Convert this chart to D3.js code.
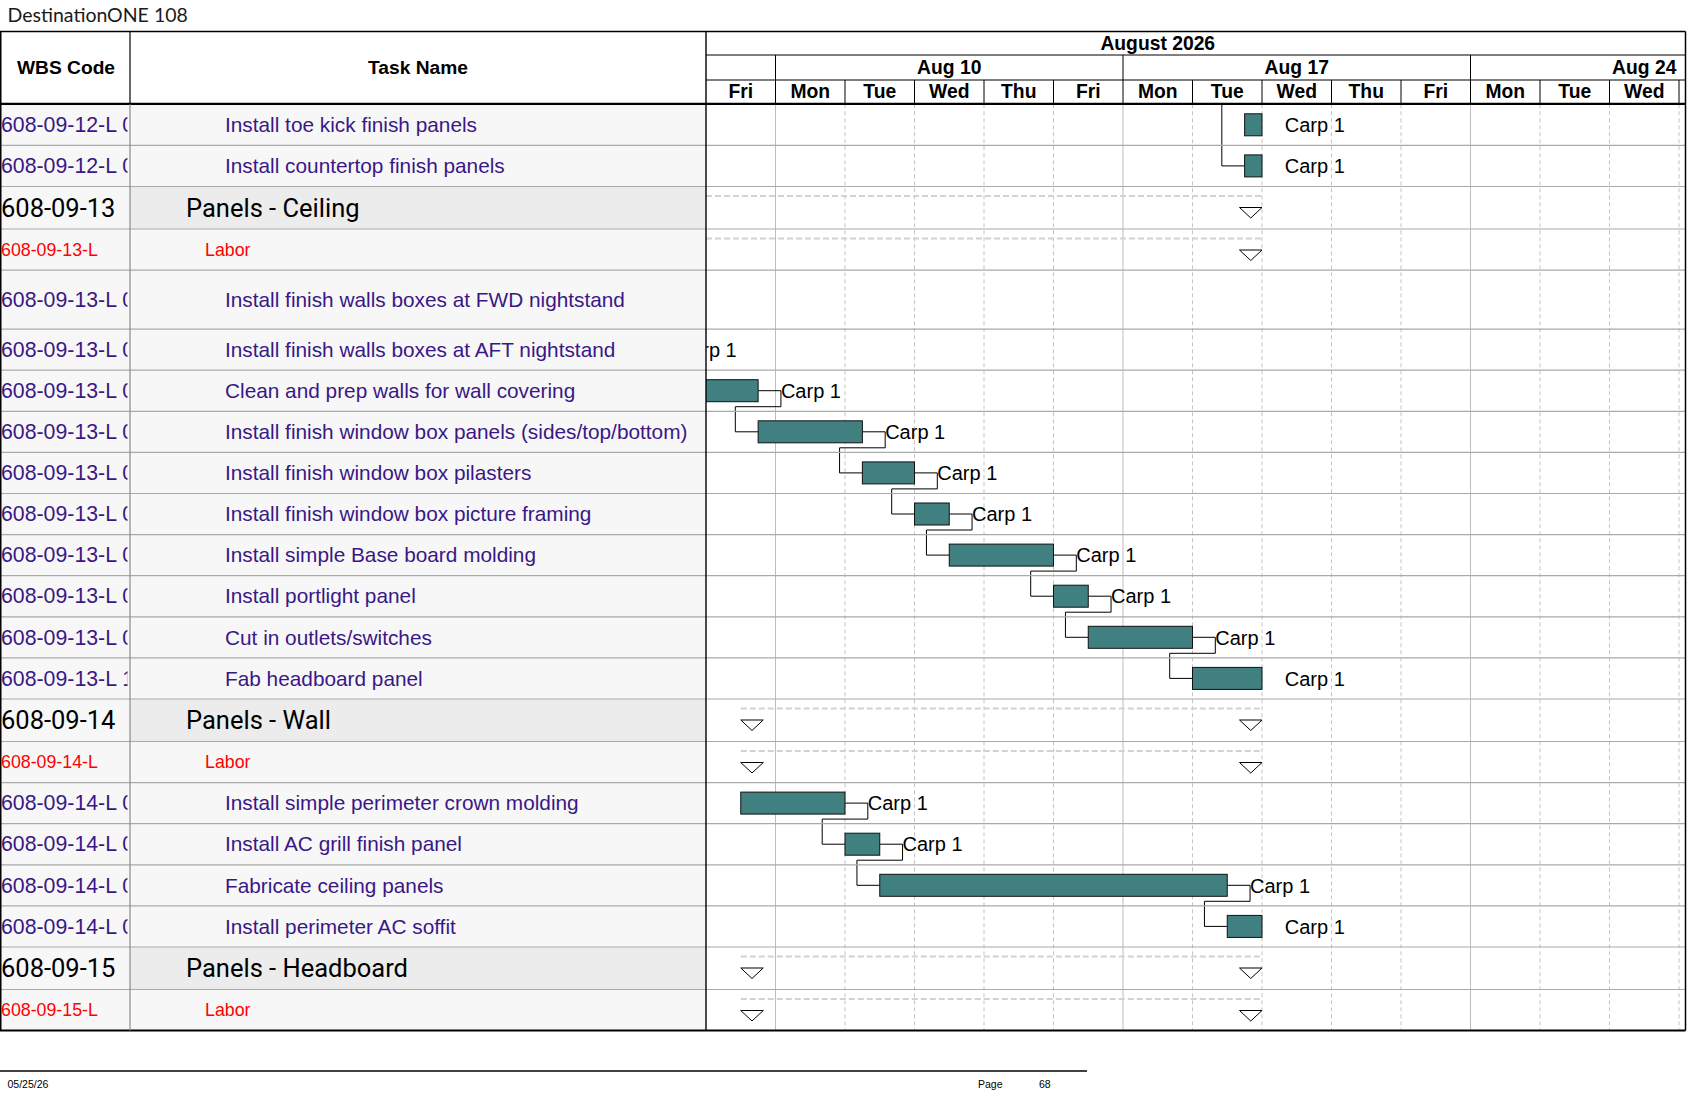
<!DOCTYPE html>
<html><head><meta charset="utf-8">
<script src="https://cdn.jsdelivr.net/npm/d3@7/dist/d3.min.js"></script>
<style>html,body{margin:0;padding:0;background:#fff;}svg{display:block;}</style>
</head><body>
<svg id="chart" width="1687" height="1097"></svg>
<script>
// ---------------- DATA ----------------
const pageTitle = "DestinationONE 108";
const footerDate = "05/25/26";
const footerPage = "68";
const columnHeaders = ["WBS Code", "Task Name"];

const wbsCodes = [
  "608-09-12-L 07", "608-09-12-L 08", "608-09-13", "608-09-13-L",
  "608-09-13-L 01", "608-09-13-L 02", "608-09-13-L 03", "608-09-13-L 04",
  "608-09-13-L 05", "608-09-13-L 06", "608-09-13-L 07", "608-09-13-L 08",
  "608-09-13-L 09", "608-09-13-L 10", "608-09-14", "608-09-14-L",
  "608-09-14-L 01", "608-09-14-L 02", "608-09-14-L 03", "608-09-14-L 04",
  "608-09-15", "608-09-15-L"
];
const taskNames = [
  "Install toe kick finish panels", "Install countertop finish panels",
  "Panels - Ceiling", "Labor",
  "Install finish walls boxes at FWD nightstand", "Install finish walls boxes at AFT nightstand",
  "Clean and prep walls for wall covering", "Install finish window box panels (sides/top/bottom)",
  "Install finish window box pilasters", "Install finish window box picture framing",
  "Install simple Base board molding", "Install portlight panel",
  "Cut in outlets/switches", "Fab headboard panel",
  "Panels - Wall", "Labor",
  "Install simple perimeter crown molding", "Install AC grill finish panel",
  "Fabricate ceiling panels", "Install perimeter AC soffit",
  "Panels - Headboard", "Labor"
];
const rowKinds = [
  "task", "task", "summary", "labor",
  "task", "task", "task", "task", "task", "task", "task", "task", "task", "task",
  "summary", "labor", "task", "task", "task", "task",
  "summary", "labor"
];
// start / finish in working days counted from Fri Aug 7 2026 (0 = start of Fri Aug 7)
const startDays  = [7.75, 7.75, -6, -6, -3, -2.25, -0.75, 0.75, 2.25, 3.0, 3.5, 5.0, 5.5, 7.0, 0.5, 0.5, 0.5, 2.0, 2.5, 7.5, 0.5, 0.5];
const finishDays = [8.0, 8.0, 8, 8, -2.25, -0.75, 0.75, 2.25, 3.0, 3.5, 5.0, 5.5, 7.0, 8.0, 8, 8, 2.0, 2.5, 7.5, 8.0, 8, 8];
const resourceNames = [
  "Carp 1", "Carp 1", "", "",
  "Carp 1", "Carp 1", "Carp 1", "Carp 1", "Carp 1", "Carp 1", "Carp 1", "Carp 1", "Carp 1", "Carp 1",
  "", "", "Carp 1", "Carp 1", "Carp 1", "Carp 1",
  "", ""
];
// finish-to-start links [predecessor row, successor row]; -1 = predecessor above this page
const linkPairs = [[-1, 1], [4, 5], [5, 6], [6, 7], [7, 8], [8, 9], [9, 10], [10, 11], [11, 12], [12, 13], [16, 17], [17, 18], [18, 19]];

// timescale (working days only)
const monthLabels = ["August 2026"];
const monthStartDays = [-4];
const monthEndDays = [17];
const weekLabels = ["Aug 3", "Aug 10", "Aug 17", "Aug 24"];
const weekStartDays = [-4, 1, 6, 11];
const dayLabels = ["Fri", "Mon", "Tue", "Wed", "Thu", "Fri", "Mon", "Tue", "Wed", "Thu", "Fri", "Mon", "Tue", "Wed", "Thu"];

// ---------------- LAYOUT ----------------
const tableTop = 31.5, headerBottom = 104.3;
const colWbsRight = 130, colTaskRight = 706, tableRight = 1685.5;
const dayWidth = 69.5;
const normalRowH = 41.1, summaryRowH = 42.5, tallRowIndex = 4, tallRowH = 59;
const monthRowBottom = 55, weekRowBottom = 80;

const ARIAL = "'Liberation Sans', Arial, sans-serif";
const purple = "#3a1786";
const barFill = "#408080";

const svg = d3.select("#chart");
const x = d3.scaleLinear().domain([0, 14]).range([colTaskRight, colTaskRight + 14 * dayWidth]);

// row geometry
const rowH = rowKinds.map((k, i) => i === tallRowIndex ? tallRowH : (k === "summary" ? summaryRowH : normalRowH));
const rowTop = [];
rowH.reduce((acc, h, i) => { rowTop[i] = acc; return acc + h; }, headerBottom);
const tableBottom = rowTop[rowTop.length - 1] + rowH[rowH.length - 1];
const rows = rowKinds.map((k, i) => ({
  i, kind: k, wbs: wbsCodes[i], name: taskNames[i], start: startDays[i], finish: finishDays[i],
  res: resourceNames[i], top: rowTop[i], h: rowH[i]
}));

// defs / clips
const defs = svg.append("defs");
defs.append("clipPath").attr("id", "clipGantt").append("rect")
  .attr("x", colTaskRight).attr("y", tableTop).attr("width", tableRight - colTaskRight).attr("height", tableBottom - tableTop);
defs.append("clipPath").attr("id", "clipWbs").append("rect")
  .attr("x", 0).attr("y", headerBottom).attr("width", 127.5).attr("height", tableBottom - headerBottom);
defs.append("clipPath").attr("id", "clipTask").append("rect")
  .attr("x", colWbsRight).attr("y", headerBottom).attr("width", colTaskRight - colWbsRight).attr("height", tableBottom - headerBottom);

// title
svg.append("text").attr("x", 7.5).attr("y", 22)
  .attr("font-family", "Lato, 'Open Sans', sans-serif").attr("font-weight", 400)
  .attr("font-size", 19.5).attr("fill", "#1a1a1a").text(pageTitle);

// ---------- left table backgrounds ----------
const left = svg.append("g");
left.selectAll("rect.wbsbg").data(rows).join("rect")
  .attr("x", 0).attr("y", d => d.top).attr("width", colWbsRight).attr("height", d => d.h)
  .attr("fill", "#f7f7f7");
left.selectAll("rect.taskbg").data(rows).join("rect")
  .attr("x", colWbsRight).attr("y", d => d.top).attr("width", colTaskRight - colWbsRight).attr("height", d => d.h)
  .attr("fill", d => d.kind === "summary" ? "#ececec" : "#f7f7f7");

// ---------- gantt grid ----------
const gantt = svg.append("g").attr("clip-path", "url(#clipGantt)");
const dayIdx = d3.range(0, dayLabels.length + 1);
gantt.selectAll("line.vgrid").data(dayIdx.filter(d => d > 0)).join("line")
  .attr("x1", d => x(d)).attr("x2", d => x(d))
  .attr("y1", headerBottom).attr("y2", tableBottom)
  .attr("stroke", d => dayLabels[d] === "Mon" ? "#bdbdbd" : "#c4c4c4")
  .attr("stroke-width", 1)
  .attr("stroke-dasharray", d => dayLabels[d] === "Mon" ? null : "4,3");

// row lines across whole table
svg.append("g").selectAll("line").data(rows.slice(1)).join("line")
  .attr("x1", 0).attr("x2", tableRight).attr("y1", d => d.top).attr("y2", d => d.top)
  .attr("stroke", "#aaaaaa").attr("stroke-width", 1.2);

// summary dashed bars and triangles
const summ = rows.filter(r => r.kind !== "task");
gantt.selectAll("line.sumbar").data(summ).join("line")
  .attr("x1", d => Math.max(x(d.start), colTaskRight)).attr("x2", d => x(d.finish))
  .attr("y1", d => d.top + 9.5).attr("y2", d => d.top + 9.5)
  .attr("stroke", "#d2d2d2").attr("stroke-width", 2).attr("stroke-dasharray", "6,3");
const triW = 22.5, triT = 21, triB = 31.5;
const triPath = (xl, top) => `M${xl},${top + triT}L${xl + triW},${top + triT}L${xl + triW / 2},${top + triB}Z`;
gantt.selectAll("path.tstart").data(summ.filter(d => x(d.start) >= colTaskRight)).join("path")
  .attr("d", d => triPath(x(d.start), d.top))
  .attr("fill", "#fff").attr("stroke", "#000").attr("stroke-width", 1);
gantt.selectAll("path.tend").data(summ).join("path")
  .attr("d", d => triPath(x(d.finish) - triW, d.top))
  .attr("fill", "#fff").attr("stroke", "#000").attr("stroke-width", 1);

// links
const linkGap = 22.8;
gantt.selectAll("path.link").data(linkPairs).join("path")
  .attr("fill", "none").attr("stroke", "#000").attr("stroke-width", 1)
  .attr("d", ([p, s]) => {
    const succ = rows[s];
    const xs = x(succ.start), ys = succ.top + 20.5;
    if (p < 0) {
      return `M${xs - linkGap},${headerBottom}V${ys}H${xs}`;
    }
    const pred = rows[p];
    const xe = x(pred.finish), ye = pred.top + 20.5, yd = pred.top + 36.5;
    return `M${xe},${ye}H${xe + linkGap}V${yd}H${xs - linkGap}V${ys}H${xs}`;
  });

// bars
const tasks = rows.filter(r => r.kind === "task");
gantt.selectAll("rect.bar").data(tasks.filter(d => x(d.finish) > colTaskRight)).join("rect")
  .attr("x", d => x(d.start)).attr("y", d => d.top + 9.5)
  .attr("width", d => x(d.finish) - x(d.start)).attr("height", 22)
  .attr("fill", barFill).attr("stroke", "#111").attr("stroke-width", 1);

// resource labels (only those reaching into the visible timescale)
const labelW = 61;
gantt.selectAll("text.res").data(tasks.filter(d => d.res && x(d.finish) + linkGap + labelW > colTaskRight)).join("text")
  .attr("x", d => x(d.finish) + linkGap).attr("y", d => d.top + 20.5 + 7.2)
  .attr("font-family", ARIAL).attr("font-size", 20).attr("fill", "#000")
  .text(d => d.res);

// ---------- left table text ----------
const fontFor = k => k === "summary" ? { fam: "Roboto, sans-serif", size: 25.5, color: "#000", indent: 186 }
  : k === "labor" ? { fam: ARIAL, size: 17.8, color: "#ff0000", indent: 205 }
  : { fam: ARIAL, size: 20.8, color: purple, indent: 225 };
svg.append("g").attr("clip-path", "url(#clipWbs)").selectAll("text").data(rows).join("text")
  .attr("x", 1).attr("y", d => d.top + d.h / 2 + fontFor(d.kind).size * 0.345)
  .attr("font-family", d => fontFor(d.kind).fam)
  .attr("font-size", d => d.kind === "task" ? 21.3 : fontFor(d.kind).size)
  .attr("fill", d => fontFor(d.kind).color).text(d => d.wbs);
svg.append("g").attr("clip-path", "url(#clipTask)").selectAll("text").data(rows).join("text")
  .attr("x", d => fontFor(d.kind).indent).attr("y", d => d.top + d.h / 2 + fontFor(d.kind).size * 0.345)
  .attr("font-family", d => fontFor(d.kind).fam).attr("font-size", d => fontFor(d.kind).size)
  .attr("fill", d => fontFor(d.kind).color).text(d => d.name);

// ---------- headers ----------
const hdr = svg.append("g");
hdr.append("text").attr("x", colWbsRight / 2 + 1).attr("y", 73.5).attr("text-anchor", "middle")
  .attr("font-family", ARIAL).attr("font-weight", "bold").attr("font-size", 19.2).text(columnHeaders[0]);
hdr.append("text").attr("x", (colWbsRight + colTaskRight) / 2).attr("y", 73.5).attr("text-anchor", "middle")
  .attr("font-family", ARIAL).attr("font-weight", "bold").attr("font-size", 19.2).text(columnHeaders[1]);

const gh = svg.append("g").attr("clip-path", "url(#clipGantt)");
const hfont = { fam: ARIAL, size: 19.3 };
const visibleCenter = cx => cx > colTaskRight - 20 && cx < tableRight + 20;
gh.selectAll("text.month").data(monthLabels).join("text")
  .attr("x", (d, i) => (x(monthStartDays[i]) + x(monthEndDays[i])) / 2).attr("y", 50)
  .attr("text-anchor", "middle").attr("font-family", hfont.fam).attr("font-weight", "bold")
  .attr("font-size", hfont.size).text(d => d);
gh.selectAll("text.week").data(weekLabels.map((w, i) => ({ w, c: x(weekStartDays[i] + 2.5) })).filter(d => visibleCenter(d.c))).join("text")
  .attr("x", d => d.c).attr("y", 74.2)
  .attr("text-anchor", "middle").attr("font-family", hfont.fam).attr("font-weight", "bold")
  .attr("font-size", hfont.size).text(d => d.w);
gh.selectAll("line.weekline").data(weekStartDays.filter(d => d > 0)).join("line")
  .attr("x1", d => x(d)).attr("x2", d => x(d)).attr("y1", monthRowBottom).attr("y2", weekRowBottom)
  .attr("stroke", "#000").attr("stroke-width", 1);
gh.selectAll("text.day").data(dayLabels.map((t, i) => ({ t, c: x(i + 0.5) })).filter(d => d.c < tableRight)).join("text")
  .attr("x", d => d.c).attr("y", 98)
  .attr("text-anchor", "middle").attr("font-family", hfont.fam).attr("font-weight", "bold")
  .attr("font-size", hfont.size).text(d => d.t);
gh.selectAll("line.dayline").data(dayIdx.filter(d => d > 0)).join("line")
  .attr("x1", d => x(d)).attr("x2", d => x(d)).attr("y1", weekRowBottom).attr("y2", headerBottom)
  .attr("stroke", "#000").attr("stroke-width", 1);
svg.append("line").attr("x1", colTaskRight).attr("x2", tableRight).attr("y1", monthRowBottom).attr("y2", monthRowBottom)
  .attr("stroke", "#000").attr("stroke-width", 1);
svg.append("line").attr("x1", colTaskRight).attr("x2", tableRight).attr("y1", weekRowBottom).attr("y2", weekRowBottom)
  .attr("stroke", "#000").attr("stroke-width", 1);

// ---------- borders ----------
const B = svg.append("g").attr("stroke", "#000").attr("fill", "none");
B.append("line").attr("x1", 0).attr("x2", tableRight).attr("y1", tableTop).attr("y2", tableTop).attr("stroke-width", 1.5);
B.append("line").attr("x1", 0).attr("x2", tableRight).attr("y1", headerBottom - 0.5).attr("y2", headerBottom - 0.5).attr("stroke-width", 2.2);
B.append("line").attr("x1", 0).attr("x2", tableRight).attr("y1", tableBottom).attr("y2", tableBottom).attr("stroke-width", 2);
B.append("line").attr("x1", 0.75).attr("x2", 0.75).attr("y1", tableTop).attr("y2", tableBottom).attr("stroke-width", 1.5);
B.append("line").attr("x1", tableRight).attr("x2", tableRight).attr("y1", tableTop).attr("y2", tableBottom).attr("stroke-width", 1.5);
B.append("line").attr("x1", colTaskRight).attr("x2", colTaskRight).attr("y1", tableTop).attr("y2", tableBottom).attr("stroke-width", 1.4);
B.append("line").attr("x1", colWbsRight).attr("x2", colWbsRight).attr("y1", tableTop).attr("y2", headerBottom).attr("stroke-width", 1.2);
B.append("line").attr("x1", colWbsRight).attr("x2", colWbsRight).attr("y1", headerBottom).attr("y2", tableBottom)
  .attr("stroke", "#8c8c8c").attr("stroke-width", 1.2);

// ---------- footer ----------
svg.append("line").attr("x1", 0).attr("x2", 1087).attr("y1", 1071).attr("y2", 1071).attr("stroke", "#000").attr("stroke-width", 1.3);
const ff = svg.append("g").attr("font-family", ARIAL).attr("font-size", 10.5).attr("fill", "#000");
ff.append("text").attr("x", 7.5).attr("y", 1087.5).text(footerDate);
ff.append("text").attr("x", 978).attr("y", 1087.5).text("Page");
ff.append("text").attr("x", 1039).attr("y", 1087.5).text(footerPage);
</script>
</body></html>
